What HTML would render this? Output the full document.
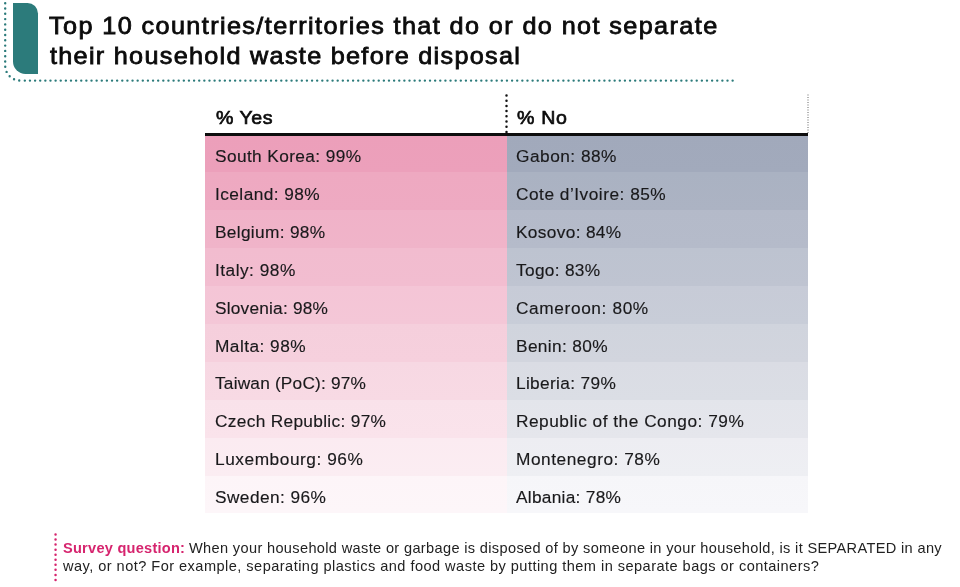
<!DOCTYPE html>
<html lang="en">
<head>
<meta charset="utf-8">
<title>Top 10 countries/territories that do or do not separate their household waste before disposal</title>
<style>
html,body{margin:0;padding:0;background:#fff;}
body{width:960px;height:587px;position:relative;overflow:hidden;font-family:"Liberation Sans", Arial, sans-serif;color:#1c1c1c;}
.abs{position:absolute;white-space:nowrap;transform-origin:0 0;}
h1{margin:0;padding:0;font:inherit;}
#teal{left:12.55px;top:3.3px;width:25.05px;height:70.5px;background:#2c7b7b;border-radius:0 10.5px 0 12.5px;}
.ttl{font-size:23.8px;line-height:28.56px;color:#0b0b0b;-webkit-text-stroke:0.8px #0b0b0b;}
.hdr{font-size:19px;line-height:22.80px;color:#0b0b0b;-webkit-text-stroke:0.7px #0b0b0b;}
.cell{font-size:16.8px;line-height:20.16px;color:#19191b;-webkit-text-stroke:0.15px #19191b;}
.ft{font-size:14.3px;line-height:17.16px;color:#222;}
.fq{font-size:14.3px;line-height:17.16px;color:#d6246e;font-weight:bold;}
#hline{left:205.3px;top:133.4px;width:603.1px;height:2.65px;background:#0d0d0d;}
</style>
</head>
<body>
<svg class="abs" style="left:0;top:0" width="960" height="587" viewBox="0 0 960 587">
  <path d="M5.2 3.2 V65.6 A15 15 0 0 0 20.2 80.6" fill="none" stroke="#2c7b7b" stroke-width="2.4" stroke-linecap="round" stroke-dasharray="0 5.3"/>
  <path d="M24.83 80.6 H734" fill="none" stroke="#2c7b7b" stroke-width="2.4" stroke-linecap="round" stroke-dasharray="0 5.129"/>
  <path d="M506.5 95.5 V133" fill="none" stroke="#111" stroke-width="2.5" stroke-linecap="round" stroke-dasharray="0 5.2"/>
  <path d="M808 94.5 V133" fill="none" stroke="#666" stroke-width="1" stroke-dasharray="1 1.5"/>
  <path d="M55.55 534.5 V581" fill="none" stroke="#d6246e" stroke-width="2.5" stroke-linecap="round" stroke-dasharray="0 5.05"/>
</svg>
<div id="teal" class="abs"></div>
<div class="abs" style="left:205.3px;top:134.50px;width:301.3px;height:38.20px;background:linear-gradient(180deg,#ec9fba,#eca0bb)"></div>
<div class="abs" style="left:506.6px;top:134.50px;width:301.8px;height:38.20px;background:linear-gradient(180deg,#a1a9bb,#a2aabc)"></div>
<div class="abs" style="left:205.3px;top:172.40px;width:301.3px;height:38.20px;background:linear-gradient(180deg,#eea9c1,#eeaac2)"></div>
<div class="abs" style="left:506.6px;top:172.40px;width:301.8px;height:38.20px;background:linear-gradient(180deg,#aab2c2,#acb3c3)"></div>
<div class="abs" style="left:205.3px;top:210.30px;width:301.3px;height:38.20px;background:linear-gradient(180deg,#f0b2c8,#f0b4c9)"></div>
<div class="abs" style="left:506.6px;top:210.30px;width:301.8px;height:38.20px;background:linear-gradient(180deg,#b4bac9,#b5bbca)"></div>
<div class="abs" style="left:205.3px;top:248.20px;width:301.3px;height:38.20px;background:linear-gradient(180deg,#f2bccf,#f2bdd0)"></div>
<div class="abs" style="left:506.6px;top:248.20px;width:301.8px;height:38.20px;background:linear-gradient(180deg,#bdc3d0,#bfc4d1)"></div>
<div class="abs" style="left:205.3px;top:286.10px;width:301.3px;height:38.20px;background:linear-gradient(180deg,#f4c5d6,#f4c7d7)"></div>
<div class="abs" style="left:506.6px;top:286.10px;width:301.8px;height:38.20px;background:linear-gradient(180deg,#c7cbd7,#c8cdd8)"></div>
<div class="abs" style="left:205.3px;top:324.00px;width:301.3px;height:38.20px;background:linear-gradient(180deg,#f5cfdc,#f6d0dd)"></div>
<div class="abs" style="left:506.6px;top:324.00px;width:301.8px;height:38.20px;background:linear-gradient(180deg,#d0d4dd,#d2d5de)"></div>
<div class="abs" style="left:205.3px;top:361.90px;width:301.3px;height:38.20px;background:linear-gradient(180deg,#f7d8e3,#f8dae4)"></div>
<div class="abs" style="left:506.6px;top:361.90px;width:301.8px;height:38.20px;background:linear-gradient(180deg,#dadce4,#dbdee5)"></div>
<div class="abs" style="left:205.3px;top:399.80px;width:301.3px;height:38.20px;background:linear-gradient(180deg,#f9e2ea,#fae3eb)"></div>
<div class="abs" style="left:506.6px;top:399.80px;width:301.8px;height:38.20px;background:linear-gradient(180deg,#e3e5eb,#e5e6ec)"></div>
<div class="abs" style="left:205.3px;top:437.70px;width:301.3px;height:38.20px;background:linear-gradient(180deg,#fbebf1,#fbedf2)"></div>
<div class="abs" style="left:506.6px;top:437.70px;width:301.8px;height:38.20px;background:linear-gradient(180deg,#ededf2,#eeeff3)"></div>
<div class="abs" style="left:205.3px;top:475.60px;width:301.3px;height:37.80px;background:linear-gradient(180deg,#fdf5f8,#fdf6f9)"></div>
<div class="abs" style="left:506.6px;top:475.60px;width:301.8px;height:37.80px;background:linear-gradient(180deg,#f6f6f9,#f7f7fa)"></div>
<div id="hline" class="abs"></div>
<h1>
<div class="abs ttl" style="left:49.23px;top:12.00px;letter-spacing:1.311px;transform:scaleX(1.06)">Top 10 countries/territories that do or do not separate</div>
<div class="abs ttl" style="left:50.00px;top:42.00px;letter-spacing:1.215px;transform:scaleX(1.06)">their household waste before disposal</div>
</h1>
<div class="thead">
<div class="abs hdr" style="left:215.54px;top:107.00px;letter-spacing:0.505px;transform:scaleX(1.03)">% Yes</div>
<div class="abs hdr" style="left:517.04px;top:107.00px;letter-spacing:0.672px;transform:scaleX(1.03)">% No</div>
</div>
<div class="col-yes">
<div class="abs cell" style="left:215.00px;top:147.00px;letter-spacing:0.374px;transform:scaleX(1.03)">South Korea: 99%</div>
<div class="abs cell" style="left:215.00px;top:185.00px;letter-spacing:0.424px;transform:scaleX(1.03)">Iceland: 98%</div>
<div class="abs cell" style="left:215.00px;top:223.00px;letter-spacing:0.310px;transform:scaleX(1.03)">Belgium: 98%</div>
<div class="abs cell" style="left:215.00px;top:261.00px;letter-spacing:0.470px;transform:scaleX(1.03)">Italy: 98%</div>
<div class="abs cell" style="left:215.00px;top:299.00px;letter-spacing:0.198px;transform:scaleX(1.03)">Slovenia: 98%</div>
<div class="abs cell" style="left:215.00px;top:337.00px;letter-spacing:0.442px;transform:scaleX(1.03)">Malta: 98%</div>
<div class="abs cell" style="left:215.00px;top:374.00px;letter-spacing:0.183px;transform:scaleX(1.03)">Taiwan (PoC): 97%</div>
<div class="abs cell" style="left:215.00px;top:412.00px;letter-spacing:0.307px;transform:scaleX(1.03)">Czech Republic: 97%</div>
<div class="abs cell" style="left:215.00px;top:450.00px;letter-spacing:0.525px;transform:scaleX(1.03)">Luxembourg: 96%</div>
<div class="abs cell" style="left:215.00px;top:488.00px;letter-spacing:0.409px;transform:scaleX(1.03)">Sweden: 96%</div>
</div>
<div class="col-no">
<div class="abs cell" style="left:516.20px;top:147.00px;letter-spacing:0.471px;transform:scaleX(1.03)">Gabon: 88%</div>
<div class="abs cell" style="left:516.20px;top:185.00px;letter-spacing:0.486px;transform:scaleX(1.03)">Cote d’Ivoire: 85%</div>
<div class="abs cell" style="left:516.20px;top:223.00px;letter-spacing:0.321px;transform:scaleX(1.03)">Kosovo: 84%</div>
<div class="abs cell" style="left:516.20px;top:261.00px;letter-spacing:0.302px;transform:scaleX(1.03)">Togo: 83%</div>
<div class="abs cell" style="left:516.20px;top:299.00px;letter-spacing:0.593px;transform:scaleX(1.03)">Cameroon: 80%</div>
<div class="abs cell" style="left:516.20px;top:337.00px;letter-spacing:0.344px;transform:scaleX(1.03)">Benin: 80%</div>
<div class="abs cell" style="left:516.20px;top:374.00px;letter-spacing:0.324px;transform:scaleX(1.03)">Liberia: 79%</div>
<div class="abs cell" style="left:516.20px;top:412.00px;letter-spacing:0.487px;transform:scaleX(1.03)">Republic of the Congo: 79%</div>
<div class="abs cell" style="left:516.20px;top:450.00px;letter-spacing:0.516px;transform:scaleX(1.03)">Montenegro: 78%</div>
<div class="abs cell" style="left:516.20px;top:488.00px;letter-spacing:0.269px;transform:scaleX(1.03)">Albania: 78%</div>
</div>
<div class="footnote">
<div class="abs fq" style="left:62.99px;top:540.00px;letter-spacing:0.240px;transform:scaleX(1.02)">Survey question:</div>
<div class="abs ft" style="left:189.20px;top:540.00px;letter-spacing:0.333px;transform:scaleX(1.02)">When your household waste or garbage is disposed of by someone in your household, is it SEPARATED in any</div>
<div class="abs ft" style="left:63.30px;top:558.00px;letter-spacing:0.444px;transform:scaleX(1.02)">way, or not? For example, separating plastics and food waste by putting them in separate bags or containers?</div>
</div>
</body>
</html>
